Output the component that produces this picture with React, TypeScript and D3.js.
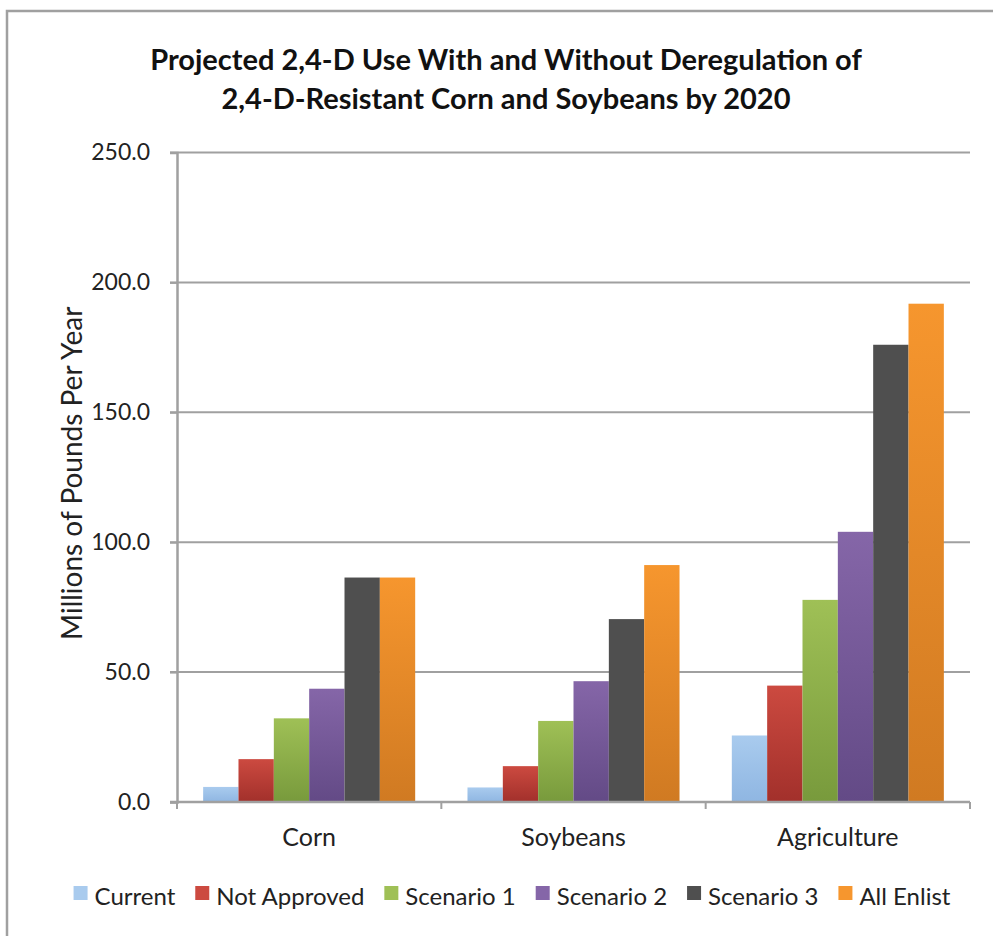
import * as d3 from "d3";
import { useEffect, useRef } from "react";

const categories = ["Corn", "Soybeans", "Agriculture"];
const seriesNames = [
  "Current",
  "Not Approved",
  "Scenario 1",
  "Scenario 2",
  "Scenario 3",
  "All Enlist",
];
const corn = [5.8, 16.5, 32.2, 43.6, 86.4, 86.4];
const soybeans = [5.6, 13.8, 31.2, 46.5, 70.4, 91.2];
const agriculture = [25.6, 44.8, 77.8, 104.0, 176.0, 191.8];
const yTicks = [0, 50, 100, 150, 200, 250];
const titleLines = [
  "Projected 2,4-D Use With and Without Deregulation of",
  "2,4-D-Resistant Corn and Soybeans by 2020",
];
const yLabel = "Millions of Pounds Per Year";

// top / bottom gradient stops per series
const colorsTop = ["#a9cbee", "#cc4a40", "#9fc056", "#8566a8", "#4f4f4f", "#f6962e"];
const colorsBottom = ["#8fb6e2", "#a2302b", "#789a3c", "#634a86", "#4f4f4f", "#d07a22"];

const W = 993;
const H = 936;
const margin = { top: 152.5, right: 23, bottom: 134, left: 177 };
const innerW = W - margin.left - margin.right;
const innerH = H - margin.top - margin.bottom;
const font = "Lato, 'Open Sans', sans-serif";

const App = () => {
  const svgRef = useRef<SVGSVGElement | null>(null);

  useEffect(() => {
    const svg = d3.select(svgRef.current);
    svg.selectAll("*").remove();

    const values = [corn, soybeans, agriculture];

    const defs = svg.append("defs");
    seriesNames.forEach((_, i) => {
      const g = defs
        .append("linearGradient")
        .attr("id", `grad${i}`)
        .attr("x1", 0)
        .attr("y1", 0)
        .attr("x2", 0)
        .attr("y2", 1);
      g.append("stop").attr("offset", "0%").attr("stop-color", colorsTop[i]);
      g.append("stop").attr("offset", "100%").attr("stop-color", colorsBottom[i]);
    });

    // frame
    svg
      .append("path")
      .attr("d", `M7,${H} L7,11 L${W},11`)
      .attr("fill", "none")
      .attr("stroke", "#a0a0a0")
      .attr("stroke-width", 2.5);

    // title
    svg
      .append("g")
      .selectAll("text")
      .data(titleLines)
      .join("text")
      .attr("x", 506)
      .attr("y", (_, i) => 70 + i * 39)
      .attr("text-anchor", "middle")
      .attr("font-family", font)
      .attr("font-weight", "bold")
      .attr("font-size", 29)
      .attr("fill", "#111")
      .text((d) => d);

    const main = svg
      .append("g")
      .attr("transform", `translate(${margin.left},${margin.top})`);

    const x0 = d3.scaleBand().domain(categories).range([0, innerW]).paddingInner(0).paddingOuter(0);
    const x1 = d3
      .scaleBand()
      .domain(seriesNames)
      .range([0, x0.bandwidth()])
      .paddingOuter(0.74)
      .paddingInner(0);
    const y = d3.scaleLinear().domain([0, 250]).range([innerH, 0]);

    // grid lines
    main
      .append("g")
      .selectAll("line")
      .data(yTicks.slice(1))
      .join("line")
      .attr("x1", -7)
      .attr("x2", innerW)
      .attr("y1", (d) => y(d))
      .attr("y2", (d) => y(d))
      .attr("stroke", "#a0a0a0")
      .attr("stroke-width", 2);

    // bars
    main
      .append("g")
      .selectAll("g")
      .data(categories)
      .join("g")
      .attr("transform", (c) => `translate(${x0(c)},0)`)
      .selectAll("rect")
      .data((_, ci) => values[ci].map((v, si) => ({ v, si })))
      .join("rect")
      .attr("x", (d) => x1(seriesNames[d.si])!)
      .attr("width", x1.bandwidth())
      .attr("y", (d) => y(d.v))
      .attr("height", (d) => innerH - y(d.v))
      .attr("fill", (d) => `url(#grad${d.si})`);

    // y axis
    const yAxis = main
      .append("g")
      .call(d3.axisLeft(y).tickValues(yTicks).tickSize(7).tickPadding(20).tickFormat(d3.format(".1f")));
    yAxis.select(".domain").attr("stroke", "#a0a0a0").attr("stroke-width", 2.5);
    yAxis.selectAll(".tick line").attr("stroke", "#a0a0a0").attr("stroke-width", 2);
    yAxis
      .selectAll(".tick text")
      .attr("font-family", font)
      .attr("font-size", 23)
      .attr("fill", "#222");

    // x axis
    const xg = main.append("g").attr("transform", `translate(0,${innerH})`);
    xg.append("line")
      .attr("x1", -7)
      .attr("x2", innerW)
      .attr("stroke", "#a0a0a0")
      .attr("stroke-width", 2.5);
    xg.selectAll("line.tk")
      .data([0, ...categories.map((c) => x0(c)! + x0.bandwidth())])
      .join("line")
      .attr("class", "tk")
      .attr("x1", (d) => d)
      .attr("x2", (d) => d)
      .attr("y1", 0)
      .attr("y2", 7)
      .attr("stroke", "#a0a0a0")
      .attr("stroke-width", 2);
    xg.selectAll("text")
      .data(categories)
      .join("text")
      .attr("x", (c) => x0(c)! + x0.bandwidth() / 2)
      .attr("y", 44)
      .attr("text-anchor", "middle")
      .attr("font-family", font)
      .attr("font-size", 25)
      .attr("fill", "#222")
      .text((d) => d);

    // y label
    svg
      .append("text")
      .attr("transform", `translate(82,${margin.top + innerH / 2 - 4}) rotate(-90)`)
      .attr("text-anchor", "middle")
      .attr("font-family", font)
      .attr("font-size", 28)
      .attr("fill", "#222")
      .text(yLabel);

    // legend
    const legend = svg.append("g").attr("transform", `translate(0,898)`);
    const items = legend
      .selectAll("g")
      .data(seriesNames)
      .join("g");
    items
      .append("rect")
      .attr("y", -12)
      .attr("width", 14)
      .attr("height", 14)
      .attr("fill", (_, i) => colorsTop[i]);
    items
      .append("text")
      .attr("x", 21)
      .attr("y", 7)
      .attr("font-family", font)
      .attr("font-size", 24)
      .attr("fill", "#222")
      .text((d) => d);
    const gap = 20;
    let cx = 0;
    const pos: number[] = [];
    items.each(function () {
      const t = d3.select(this).select("text").node() as SVGTextElement;
      pos.push(cx);
      cx += 21 + t.getComputedTextLength() + gap;
    });
    const total = cx - gap;
    const start = 512 - total / 2;
    items.attr("transform", (_, i) => `translate(${start + pos[i]},0)`);
  }, []);

  return (
    <svg
      ref={svgRef}
      width={W}
      height={H}
      style={{ position: "absolute", left: 0, top: 0, background: "#fff" }}
    />
  );
};

export default App;
